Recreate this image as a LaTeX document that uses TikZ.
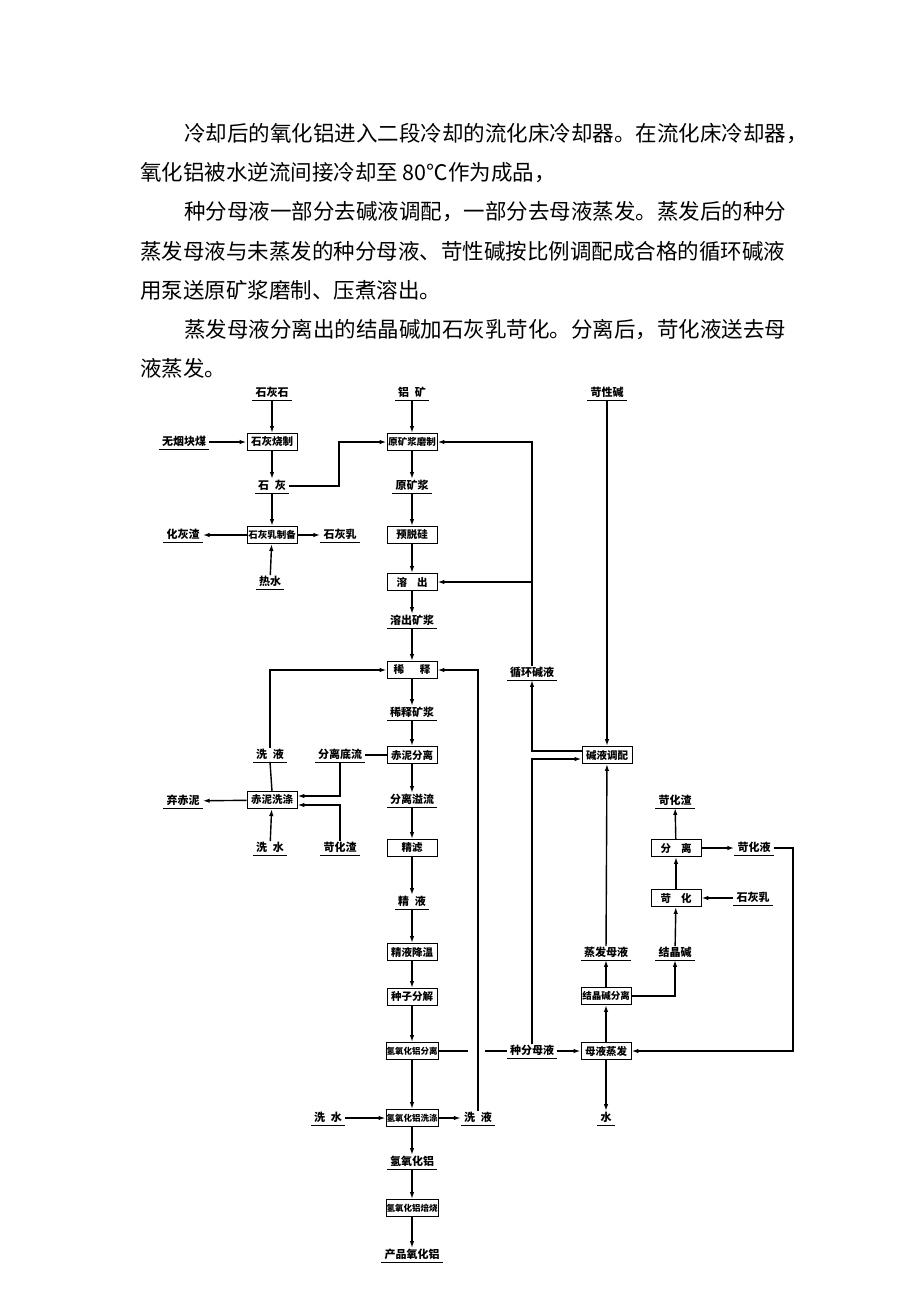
\documentclass[tikz,border=0pt]{standalone}
\usepackage{fontspec}
\newfontfamily\cjk{Noto Sans CJK SC}
\usetikzlibrary{arrows.meta}

\tikzset{
    para/.style={anchor=base west, inner sep=0pt, font=\cjk\fontsize{21.5}{21.5}\selectfont},
    lbl/.style={font=\cjk\bfseries\fontsize{11}{11}\selectfont, inner xsep=3pt, inner ysep=2pt,
        text height=8.5pt, text depth=1pt,
        append after command={\pgfextra{\let\lastlbl\tikzlastnode}
            (\lastlbl.south west) edge[line width=0.7pt] (\lastlbl.south east)}},
    box/.style={draw, line width=0.9pt, minimum width=50pt, minimum height=17pt, inner sep=0.5pt,
        font=\cjk\bfseries\fontsize{10.5}{10.5}\selectfont},
    fivebox/.style={font=\cjk\bfseries\fontsize{9.5}{9.5}\selectfont},
    sixbox/.style={font=\cjk\bfseries\fontsize{8.5}{8.5}\selectfont},
    arr/.style={line width=1.4pt, -{Latex[length=7pt,width=4.5pt]}},
    ln/.style={line width=1.4pt}
}

\begin{document}
\begin{tikzpicture}[x=1pt,y=-1pt]
    \useasboundingbox[fill=white] (0,0) rectangle (920,1302);

    % text above the chart
    \node[para] (p1) at (184,141) {冷却后的氧化铝进入二段冷却的流化床冷却器。在流化床冷却器，};
    \node[para] (p2) at (140,180) {氧化铝被水逆流间接冷却至 80℃作为成品，};
    \node[para] (p3) at (184,219) {种分母液一部分去碱液调配，一部分去母液蒸发。蒸发后的种分};
    \node[para] (p4) at (140,259) {蒸发母液与未蒸发的种分母液、苛性碱按比例调配成合格的循环碱液};
    \node[para] (p5) at (140,298) {用泵送原矿浆磨制、压煮溶出。};
    \node[para] (p6) at (184,337) {蒸发母液分离出的结晶碱加石灰乳苛化。分离后，苛化液送去母};
    \node[para] (p7) at (140,376) {液蒸发。};

    % process boxes
    \begin{scope}[every node/.style={box}]
        \node (shsz) at (272,442) {石灰烧制};
        \node[fivebox] (ykjmz) at (412,442) {原矿浆磨制};
        \node[fivebox] (shrzb) at (272,535) {石灰乳制备};
        \node (ytg) at (412,535) {预脱硅};
        \node (rc) at (412,582) {溶\hspace{10pt}出};
        \node (xs) at (412,670) {稀\hspace{16pt}释};
        \node (cnfl) at (412,755) {赤泥分离};
        \node (jytp) at (607,755) {碱液调配};
        \node (cnxd) at (272,800) {赤泥洗涤};
        \node (jl) at (412,848) {精滤};
        \node (fenli) at (676,848) {分\hspace{10pt}离};
        \node (kh) at (676,898) {苛\hspace{10pt}化};
        \node (jyjw) at (412,952) {精液降温};
        \node (zzfj) at (412,997) {种子分解};
        \node[fivebox] (jjjfl) at (606,996) {结晶碱分离};
        \node[sixbox] (qyhlfl) at (412,1051) {氢氧化铝分离};
        \node (myzf) at (606,1051) {母液蒸发};
        \node[sixbox] (qyhlxd) at (412,1118) {氢氧化铝洗涤};
        \node[sixbox] (qyhlbs) at (412,1208) {氢氧化铝焙烧};
    \end{scope}

    % material labels
    \begin{scope}[every node/.style={lbl}]
        \node (shs) at (272,393) {石灰石};
        \node (lk) at (412,393) {铝\hspace{6pt}矿};
        \node (kxj) at (607,393) {苛性碱};
        \node (wymm) at (184,442) {无烟块煤};
        \node (sh) at (272,486) {石\hspace{6pt}灰};
        \node (ykj) at (412,486) {原矿浆};
        \node (hhz) at (183,535) {化灰渣};
        \node (shr) at (340,535) {石灰乳};
        \node (rs) at (270,582) {热水};
        \node (rckj) at (412,621) {溶出矿浆};
        \node (xhjy) at (532,673) {循环碱液};
        \node (xskj) at (412,713) {稀释矿浆};
        \node (xy1) at (270,755) {洗\hspace{6pt}液};
        \node (fldl) at (340,755) {分离底流};
        \node (qcn) at (183,801) {弃赤泥};
        \node (flyl) at (412,800) {分离溢流};
        \node (khz2) at (675,801) {苛化渣};
        \node (xsh1) at (270,848) {洗\hspace{6pt}水};
        \node (khz1) at (340,848) {苛化渣};
        \node (khy) at (754,848) {苛化液};
        \node (jy) at (412,902) {精\hspace{6pt}液};
        \node (shr2) at (753,898) {石灰乳};
        \node (zfmy2) at (606,953) {蒸发母液};
        \node (jjj) at (675,953) {结晶碱};
        \node (zfmy) at (532,1051) {种分母液};
        \node (xsh2) at (328,1118) {洗\hspace{6pt}水};
        \node (xy2) at (478,1118) {洗\hspace{6pt}液};
        \node (water) at (606,1118) {水};
        \node (qyhl) at (412,1162) {氢氧化铝};
        \node (cpyhl) at (412,1255) {产品氧化铝};
    \end{scope}

    \coordinate (c1) at (339,486);
    \coordinate (c2) at (793,848);
    \coordinate (gapL) at (468,1051);
    \coordinate (gapR) at (485,1051);

    % lime branch
    \begin{scope}
        \path [arr] (shs) edge (shsz);
        \path [arr] (wymm) edge (shsz);
        \path [arr] (shsz) edge (sh);
        \path [arr] (sh) edge (shrzb);
        \path [arr] (shrzb) edge (hhz);
        \path [arr] (shrzb) edge (shr);
        \path [arr] (rs) edge (shrzb);
        \draw [arr] (sh.east) -- (c1) |- (ykjmz.west);
    \end{scope}

    % main line
    \begin{scope}
        \path [arr] (lk) edge (ykjmz);
        \path [arr] (ykjmz) edge (ykj);
        \path [arr] (ykj) edge (ytg);
        \path [arr] (ytg) edge (rc);
        \path [arr] (rc) edge (rckj);
        \path [arr] (rckj) edge (xs);
        \path [arr] (xs) edge (xskj);
        \path [arr] (xskj) edge (cnfl);
        \path [arr] (cnfl) edge (flyl);
        \path [arr] (flyl) edge (jl);
        \path [arr] (jl) edge (jy);
        \path [arr] (jy) edge (jyjw);
        \path [arr] (jyjw) edge (zzfj);
        \path [arr] (zzfj) edge (qyhlfl);
        \path [arr] (qyhlfl) edge (qyhlxd);
        \path [arr] (qyhlxd) edge (qyhl);
        \path [arr] (qyhl) edge (qyhlbs);
        \path [arr] (qyhlbs) edge (cpyhl);
        \path [arr] (xsh2) edge (qyhlxd);
        \path [arr] (qyhlxd) edge (xy2);
        \draw [arr] (xy2.north) |- (xs.east);
        \draw [ln] (qyhlfl.east) -- (gapL);
        \draw [ln] (gapR) -- (zfmy.west);
    \end{scope}

    % red mud washing
    \begin{scope}
        \draw [ln] (fldl.east) -- (cnfl.west);
        \draw [arr] (fldl.south) |- ([yshift=4pt]cnxd.east);
        \draw [arr] (khz1.north) |- ([yshift=-5pt]cnxd.east);
        \draw [ln] (cnxd.north) -- (xy1.south);
        \draw [arr] (xy1.north) |- (xs.west);
        \path [arr] (cnxd) edge (qcn);
        \path [arr] (xsh1) edge (cnxd);
    \end{scope}

    % liquor loop
    \begin{scope}
        \path [arr] (kxj) edge (jytp);
        \draw [arr] ([yshift=4pt]jytp.west) -| (xhjy.south);
        \draw [arr] (zfmy.north) |- ([yshift=-4pt]jytp.west);
        \draw [arr] (xhjy.north) |- (ykjmz.east);
        \draw [arr] (xhjy.north |- rc.east) -- (rc.east);
        \path [arr] (zfmy) edge (myzf);
        \path [arr] (myzf) edge (jjjfl);
        \path [arr] (myzf) edge (water);
        \path [arr] (jjjfl) edge (zfmy2);
        \path [arr] (zfmy2) edge (jytp);
        \draw [arr] (jjjfl.east) -| (jjj.south);
        \path [arr] (jjj) edge (kh);
        \path [arr] (kh) edge (fenli);
        \path [arr] (fenli) edge (khz2);
        \path [arr] (fenli) edge (khy);
        \path [arr] (shr2) edge (kh);
        \draw [arr] (khy.east) -- (c2) |- (myzf.east);
    \end{scope}
\end{tikzpicture}
\end{document}
